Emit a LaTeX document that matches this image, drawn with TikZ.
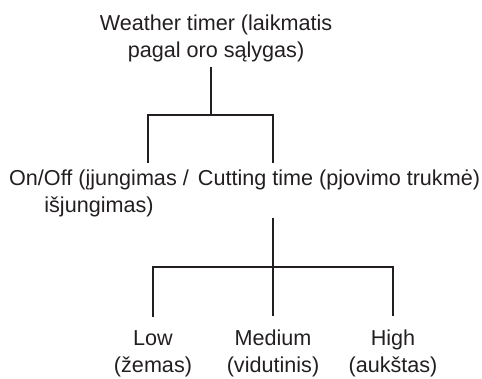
\documentclass[tikz,border=0pt]{standalone}
\usepackage{fontspec}
\setmainfont{Liberation Sans}
\definecolor{ink}{HTML}{231F20}
\begin{document}
\begin{tikzpicture}[x=1pt,y=-1pt,
  lbl/.style={align=center, inner sep=0pt, anchor=base, text=ink,
    font=\fontsize{21.6}{27}\selectfont},
  conn/.style={draw=ink, line width=2.2pt, line join=miter}]
\useasboundingbox (0,0) rectangle (482,378);
\node[lbl] (wt) at (216,57) {Weather timer (laikmatis\\pagal oro sąlygas)};
\node[lbl] (oo) at (99,212) {On/Off (įjungimas /\\išjungimas)};
\node[lbl] (ct) at (339,185) {Cutting time (pjovimo trukmė)};
\node[lbl] (lo) at (153,372) {Low\\(žemas)};
\node[lbl] (me) at (273,372) {Medium\\(vidutinis)};
\node[lbl] (hi) at (393,372) {High\\(aukštas)};
\coordinate (j1) at (211,115);
\coordinate (xL) at (148,0);
\coordinate (xR) at (273,0);
\coordinate (j2) at (273,267);
\coordinate (xa) at (153,0);
\coordinate (xc) at (393,0);
\draw[conn] ([yshift=-5pt]wt.south -| j1) -- (j1);
\draw[conn] ([yshift=6pt]oo.north -| xL) |- (j1) -| ([yshift=6pt]ct.north -| xR);
\draw[conn] ([yshift=-28pt]ct.south -| j2) -- (j2);
\draw[conn] ([yshift=13pt]lo.north -| xa) |- (j2) -| ([yshift=13pt]hi.north -| xc);
\draw[conn] (j2) -- ([yshift=13pt]me.north);
\end{tikzpicture}
\end{document}
